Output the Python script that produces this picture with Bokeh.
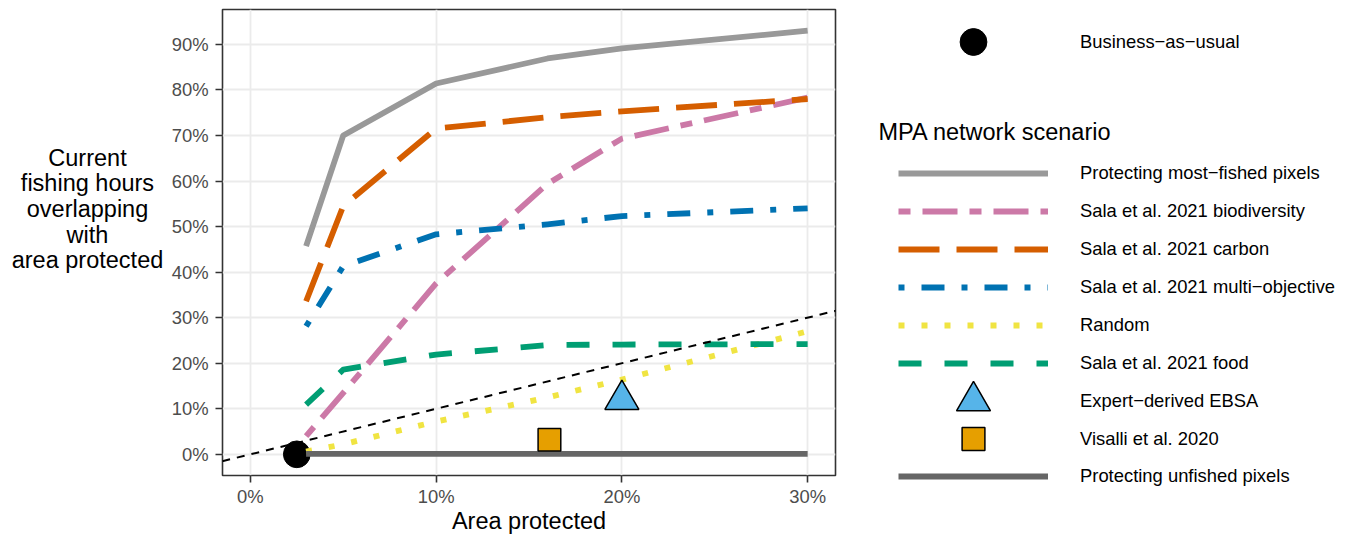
from bokeh.plotting import figure
from bokeh.layouts import row, column
from bokeh.models import Range1d, FixedTicker, Legend, LegendItem, Label, Slope
from bokeh.embed import file_html
from bokeh.resources import INLINE

# ---------------- data (percent units) ----------------
area_pct = [3, 5, 10, 16, 20, 30]
most_fished = [45.7, 70.0, 81.4, 86.9, 89.1, 93.0]
biodiversity = [4.0, 13.5, 37.5, 59.4, 69.3, 78.3]
carbon = [33.6, 54.5, 71.5, 74.0, 75.3, 78.0]
multi_objective = [28.1, 41.3, 48.3, 50.5, 52.3, 54.0]
random_net = [0.6, 2.2, 7.2, 12.5, 16.4, 27.0]
food = [10.9, 18.6, 21.9, 24.0, 24.1, 24.2]
unfished = [0.1, 0.1, 0.1, 0.1, 0.1, 0.1]

bau_x, bau_y = [2.5], [0.0]
ebsa_x, ebsa_y = [20.0], [12.0]
visalli_x, visalli_y = [16.1], [3.2]

x_ticks = [0, 10, 20, 30]
x_tick_labels = ["0%", "10%", "20%", "30%"]
y_ticks = [0, 10, 20, 30, 40, 50, 60, 70, 80, 90]
y_tick_labels = ["0%", "10%", "20%", "30%", "40%", "50%", "60%", "70%", "80%", "90%"]

scenario_names = [
    "Protecting most\u2212fished pixels",
    "Sala et al. 2021 biodiversity",
    "Sala et al. 2021 carbon",
    "Sala et al. 2021 multi\u2212objective",
    "Random",
    "Sala et al. 2021 food",
    "Expert\u2212derived EBSA",
    "Visalli et al. 2020",
    "Protecting unfished pixels",
]
bau_name = "Business\u2212as\u2212usual"
legend_title = "MPA network scenario"
x_title = "Area protected"
y_title = "Current\nfishing hours\noverlapping\nwith\narea protected"

series = {
    "most": most_fished, "bio": biodiversity, "carb": carbon, "multi": multi_objective,
    "rand": random_net, "food": food, "unf": unfished,
}

# ---------------- styles ----------------
FONT = "Liberation Sans"
SMALL = "18.4px"
BIG = "23.5px"
LW = 5.8
styles = {
    "most": dict(line_color="#999999", line_width=LW, line_join="round"),
    "bio": dict(line_color="#CC79A7", line_width=LW, line_join="round", line_dash="12 12 35 12"),
    "carb": dict(line_color="#D55E00", line_width=LW, line_join="round", line_dash="41 17"),
    "multi": dict(line_color="#0072B2", line_width=LW, line_join="round", line_dash="6 17 23 17"),
    "rand": dict(line_color="#F0E442", line_width=LW, line_join="round", line_dash="6 17"),
    "food": dict(line_color="#009E73", line_width=LW, line_join="round", line_dash="23 23"),
    "unf": dict(line_color="#666666", line_width=LW, line_join="round"),
}
bau_style = dict(marker="circle", fill_color="black", line_color="black")
ebsa_style = dict(marker="triangle", fill_color="#56B4E9", line_color="black", line_width=1.5)
vis_style = dict(marker="square", fill_color="#E69F00", line_color="black", line_width=1.5)

H = 537
A_W = 168            # y-title panel
B_W = 860 - A_W      # main plot
C_W = 1355 - 860     # legend panel


def blank_fig(w, x0):
    f = figure(width=w, height=H, output_backend="svg", toolbar_location=None,
               x_range=Range1d(x0, x0 + w), y_range=Range1d(H, 0),
               x_axis_location=None, y_axis_location=None,
               min_border=0, min_border_left=0, min_border_right=0,
               min_border_top=0, min_border_bottom=0)
    f.outline_line_color = None
    f.grid.visible = False
    f.background_fill_color = "white"
    f.border_fill_color = "white"
    return f

# ---------------- y title panel ----------------
pa = blank_fig(A_W, 0)
pa.add_layout(Label(x=87, y=208.5, text=y_title, text_font=FONT, text_font_size=BIG,
                    text_align="center", text_baseline="middle", text_color="black",
                    text_line_height=0.99))

# ---------------- main plot ----------------
p = figure(width=B_W, height=H, output_backend="svg", toolbar_location=None,
           x_range=Range1d(-1.5, 31.5), y_range=Range1d(-4.65, 97.65))
p.min_border_left = 222 - A_W
p.min_border_right = 860 - 835
p.min_border_top = 9
p.min_border_bottom = H - 475
p.background_fill_color = "white"
p.border_fill_color = "white"
p.outline_line_color = "#333333"
p.outline_line_width = 1.6

for ax, ticks, labels in ((p.xaxis[0], x_ticks, x_tick_labels), (p.yaxis[0], y_ticks, y_tick_labels)):
    ax.ticker = FixedTicker(ticks=ticks)
    ax.major_label_overrides = {t: l for t, l in zip(ticks, labels)}
    ax.axis_line_color = None
    ax.major_tick_out = 7
    ax.major_tick_in = 0
    ax.major_tick_line_color = "#333333"
    ax.major_tick_line_width = 1.6
    ax.minor_tick_line_color = None
    ax.major_label_text_font = FONT
    ax.major_label_text_font_size = SMALL
    ax.major_label_text_color = "#4D4D4D"
p.xaxis.major_label_standoff = 3
p.yaxis.major_label_standoff = 7
p.xaxis.axis_label = x_title
p.xaxis.axis_label_text_font = FONT
p.xaxis.axis_label_text_font_size = BIG
p.xaxis.axis_label_text_font_style = "normal"
p.xaxis.axis_label_text_color = "black"
p.xaxis.axis_label_standoff = -2

p.xgrid.ticker = FixedTicker(ticks=x_ticks)
p.ygrid.ticker = FixedTicker(ticks=y_ticks)
for g in (p.xgrid[0], p.ygrid[0]):
    g.grid_line_color = "#EBEBEB"
    g.grid_line_width = 1.8
    g.minor_grid_line_color = None

p.add_layout(Slope(gradient=1, y_intercept=0, line_color="black", line_width=2, line_dash="8 7"))

p.scatter(bau_x, bau_y, size=26.7, **bau_style)
for key in ("most", "bio", "carb", "multi", "rand", "food", "unf"):
    p.line(area_pct, series[key], **styles[key])
p.scatter(ebsa_x, ebsa_y, size=34, **ebsa_style)
p.scatter(visalli_x, visalli_y, size=22.7, **vis_style)

# ---------------- legend panel ----------------
# key renderers reuse the data; it lies outside this panel's ranges, so only the legend shows them
pc = blank_fig(C_W, 860)
k_bau = pc.scatter(bau_x, bau_y, **bau_style)
k_lines = [pc.line(area_pct, series[k], **styles[k]) for k in ("most", "bio", "carb", "multi", "rand", "food")]
k_ebsa = pc.scatter(ebsa_x, ebsa_y, **ebsa_style)
k_vis = pc.scatter(visalli_x, visalli_y, **vis_style)
k_unf = pc.line(area_pct, series["unf"], **styles["unf"])


def make_legend(items, gh, center_y):
    bottom = center_y - gh / 2 + len(items) * gh
    lg = Legend(items=items, location=(898 - 860, round(H - bottom)),
                glyph_width=150, glyph_height=gh, label_height=gh, label_width=20,
                label_standoff=32, spacing=0, padding=0, margin=0,
                border_line_color=None, background_fill_color=None, background_fill_alpha=0,
                label_text_font=FONT, label_text_font_size=SMALL, label_text_color="black")
    pc.add_layout(lg)
    return lg


make_legend([LegendItem(label=bau_name, renderers=[k_bau])], 67, 42)
make_legend([LegendItem(label=scenario_names[i], renderers=[r]) for i, r in enumerate(k_lines)], 38, 173)
make_legend([LegendItem(label=scenario_names[6], renderers=[k_ebsa])], 85, 400)
make_legend([LegendItem(label=scenario_names[7], renderers=[k_vis])], 57, 438)
make_legend([LegendItem(label=scenario_names[8], renderers=[k_unf])], 38, 476)

pc.add_layout(Label(x=878, y=131.5, text=legend_title, text_font=FONT, text_font_size=BIG,
                    text_align="left", text_baseline="middle", text_color="black"))

layout = row(column(pa), p, column(pc), spacing=0)
open("out.html", "w").write(file_html(layout, INLINE))
